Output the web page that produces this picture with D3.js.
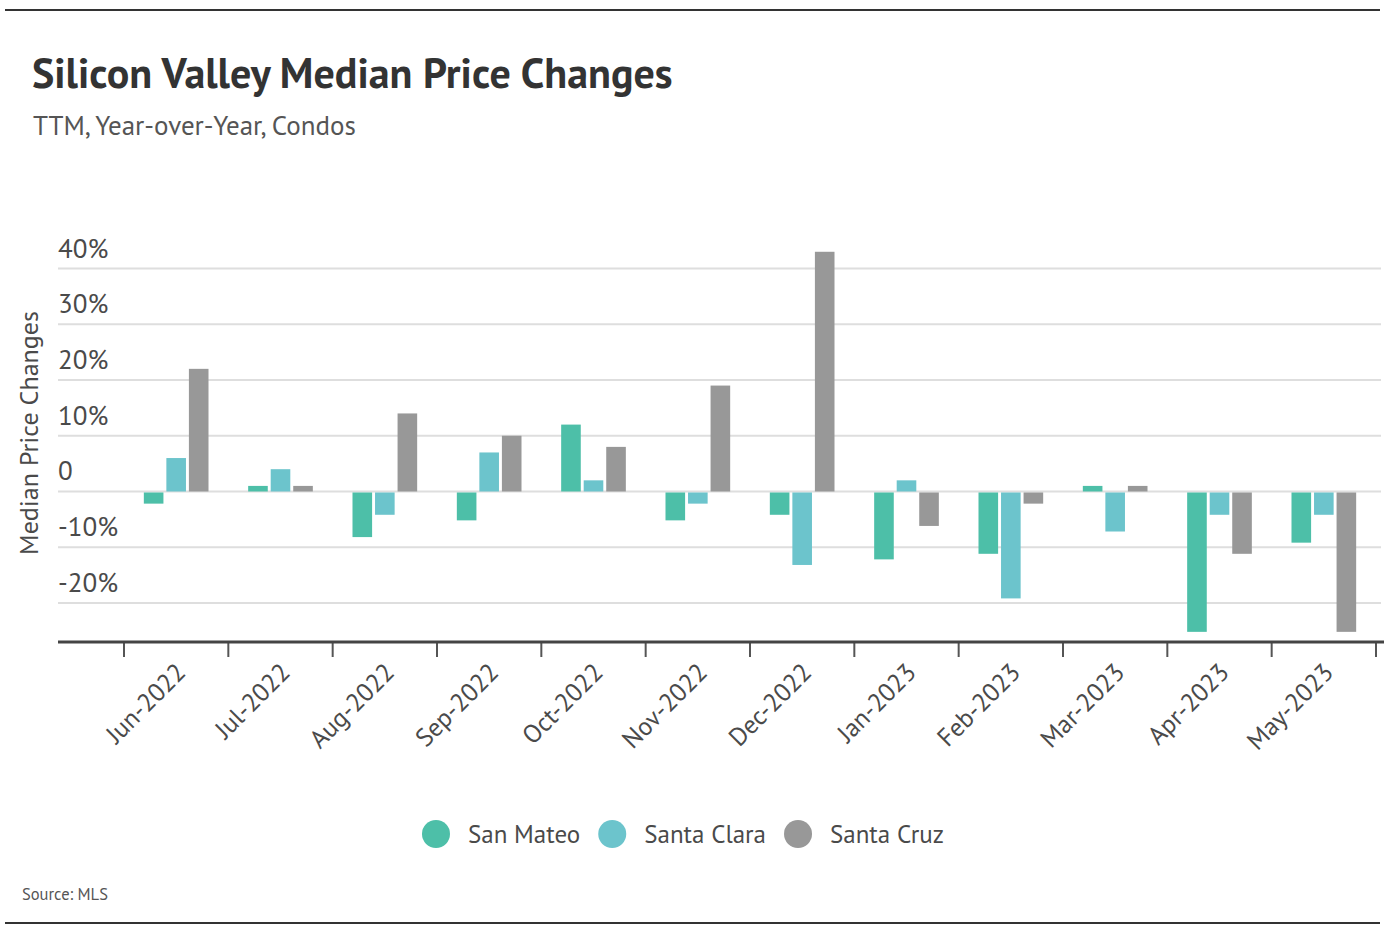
<!DOCTYPE html>
<html>
<head>
<meta charset="utf-8">
<script src="https://cdn.jsdelivr.net/npm/d3@7"></script>
<style>
  body { margin: 0; background: #fff; }
  svg text { font-family: "PT Sans", "DejaVu Sans Condensed", sans-serif; }
</style>
</head>
<body>
<svg id="chart" width="1392" height="946"></svg>
<script>
// data
var months = ["Jun-2022", "Jul-2022", "Aug-2022", "Sep-2022", "Oct-2022", "Nov-2022",
              "Dec-2022", "Jan-2023", "Feb-2023", "Mar-2023", "Apr-2023", "May-2023"];
var series = ["San Mateo", "Santa Clara", "Santa Cruz"];
var sanMateo   = [-2, 1, -8, -5, 12, -5, -4, -12, -11, 1, -25, -9];
var santaClara = [6, 4, -4, 7, 2, -2, -13, 2, -19, -7, -4, -4];
var santaCruz  = [22, 1, 14, 10, 8, 19, 43, -6, -2, 1, -11, -25];
var yTicks = [40, 30, 20, 10, 0, -10, -20];

var colors = {"San Mateo": "#4dbfa8", "Santa Clara": "#6cc4cc", "Santa Cruz": "#989898"};

var rows = months.map(function(m, i) {
  return {month: m, values: [
    {key: "San Mateo", value: sanMateo[i]},
    {key: "Santa Clara", value: santaClara[i]},
    {key: "Santa Cruz", value: santaCruz[i]}
  ]};
});

var svg = d3.select("#chart");

var x0 = d3.scaleBand()
    .domain(months)
    .range([124, 1376]);

var x1 = d3.scaleBand()
    .domain(series)
    .range([0, x0.bandwidth()])
    .paddingInner(0.13)
    .paddingOuter(0.88);

var y = d3.scaleLinear()
    .domain([-27, 40])
    .range([642, 268.5]);

// rules top and bottom
svg.append("line").attr("x1", 5).attr("x2", 1380).attr("y1", 10).attr("y2", 10)
    .attr("stroke", "#333").attr("stroke-width", 2);
svg.append("line").attr("x1", 5).attr("x2", 1380).attr("y1", 923).attr("y2", 923)
    .attr("stroke", "#333").attr("stroke-width", 2);

// titles
svg.append("text")
    .attr("x", 32)
    .attr("y", 88)
    .attr("font-size", 42)
    .attr("font-weight", "bold")
    .attr("fill", "#333")
    .text("Silicon Valley Median Price Changes");

svg.append("text")
    .attr("x", 33)
    .attr("y", 135)
    .attr("font-size", 27)
    .attr("fill", "#555")
    .text("TTM, Year-over-Year, Condos");

// grid + y labels
var grid = svg.append("g").attr("class", "grid");
grid.selectAll("line")
    .data(yTicks)
  .enter().append("line")
    .attr("x1", 58)
    .attr("x2", 1381)
    .attr("y1", function(d) { return y(d); })
    .attr("y2", function(d) { return y(d); })
    .attr("stroke", "#dedede")
    .attr("stroke-width", 2);

grid.selectAll("text")
    .data(yTicks)
  .enter().append("text")
    .attr("x", 58)
    .attr("y", function(d) { return y(d) - 11; })
    .attr("font-size", 27)
    .attr("fill", "#4a4a4a")
    .text(function(d) { return d === 0 ? "0" : d + "%"; });

svg.append("text")
    .attr("transform", "translate(38,433) rotate(-90)")
    .attr("text-anchor", "middle")
    .attr("font-size", 26)
    .attr("fill", "#4a4a4a")
    .text("Median Price Changes");

// bars
var group = svg.selectAll(".month")
    .data(rows)
  .enter().append("g")
    .attr("class", "month")
    .attr("transform", function(d) { return "translate(" + x0(d.month) + ",0)"; });

group.selectAll("rect")
    .data(function(d) { return d.values; })
  .enter().append("rect")
    .attr("x", function(d) { return x1(d.key); })
    .attr("width", x1.bandwidth())
    .attr("y", function(d) { return d.value >= 0 ? y(d.value) : y(0) + 1; })
    .attr("height", function(d) { return Math.abs(y(d.value) - y(0)); })
    .attr("fill", function(d) { return colors[d.key]; });

// x axis
var xAxis = d3.axisBottom(x0).tickSize(15).tickPadding(0);

var gx = svg.append("g")
    .attr("class", "xaxis")
    .attr("transform", "translate(0,642)")
    .call(xAxis);

gx.select(".domain").remove();
gx.selectAll(".tick line")
    .attr("x1", -x0.bandwidth() / 2)
    .attr("x2", -x0.bandwidth() / 2)
    .attr("stroke", "#555")
    .attr("stroke-width", 2);
gx.append("line")
    .attr("x1", x0.range()[1]).attr("x2", x0.range()[1])
    .attr("y1", 0).attr("y2", 15)
    .attr("stroke", "#555").attr("stroke-width", 2);
gx.append("line")
    .attr("x1", 58).attr("x2", 1384)
    .attr("y1", 0).attr("y2", 0)
    .attr("stroke", "#444").attr("stroke-width", 3);

gx.selectAll(".tick text")
    .attr("font-family", null)
    .attr("font-size", 25.5)
    .attr("fill", "#4a4a4a")
    .attr("text-anchor", "end")
    .attr("dy", null)
    .attr("transform", "translate(11,32) rotate(-45)")
    .attr("y", 0);

// legend
var legend = svg.append("g").attr("class", "legend");
var lx = 422;
series.forEach(function(s) {
  legend.append("circle")
      .attr("cx", lx + 14)
      .attr("cy", 834)
      .attr("r", 14)
      .attr("fill", colors[s]);
  var t = legend.append("text")
      .attr("x", lx + 46)
      .attr("y", 843)
      .attr("font-size", 25)
      .attr("fill", "#4a4a4a")
      .text(s);
  lx = lx + 46 + t.node().getComputedTextLength() + 18;
});

svg.append("text")
    .attr("x", 22)
    .attr("y", 900)
    .attr("font-size", 16.5)
    .attr("fill", "#555")
    .text("Source: MLS");
</script>
</body>
</html>
